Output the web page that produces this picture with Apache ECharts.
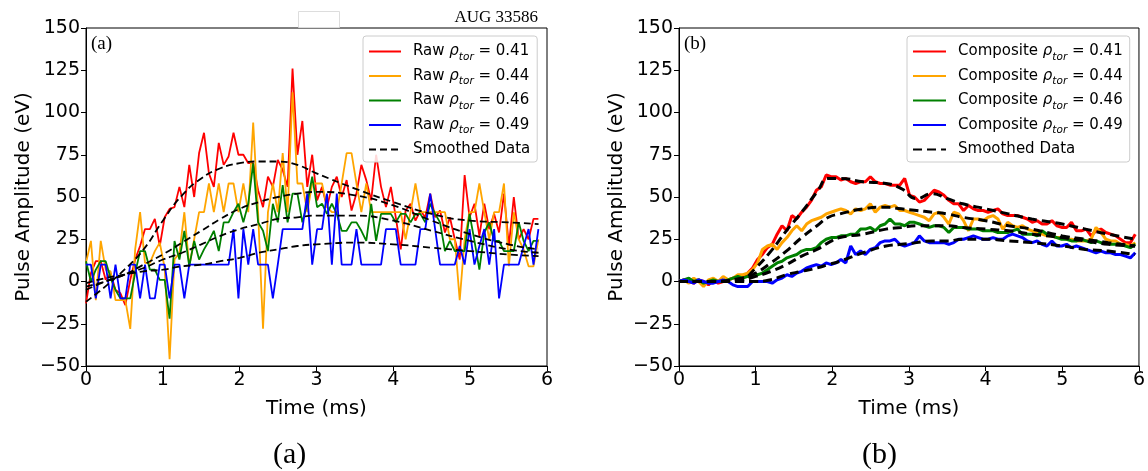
<!DOCTYPE html>
<html><head><meta charset="utf-8">
<script src="https://cdn.jsdelivr.net/npm/echarts@6/dist/echarts.min.js"></script>
<style>html,body{margin:0;padding:0;background:#fff}#c{width:1148px;height:471px}</style>
</head><body><div id="c"></div>
<script>
// sampling times (ms)
const TIME = [0, 0.064, 0.128, 0.192, 0.256, 0.32, 0.384, 0.448, 0.512, 0.576,
  0.64, 0.704, 0.768, 0.832, 0.896, 0.96, 1.024, 1.088, 1.152, 1.216,
  1.28, 1.344, 1.408, 1.472, 1.536, 1.6, 1.664, 1.728, 1.792, 1.856,
  1.92, 1.984, 2.048, 2.112, 2.176, 2.24, 2.304, 2.368, 2.432, 2.496,
  2.56, 2.624, 2.688, 2.752, 2.816, 2.88, 2.944, 3.008, 3.072, 3.136,
  3.2, 3.264, 3.328, 3.392, 3.456, 3.52, 3.584, 3.648, 3.712, 3.776,
  3.84, 3.904, 3.968, 4.032, 4.096, 4.16, 4.224, 4.288, 4.352, 4.416,
  4.48, 4.544, 4.608, 4.672, 4.736, 4.8, 4.864, 4.928, 4.992, 5.056,
  5.12, 5.184, 5.248, 5.312, 5.376, 5.44, 5.504, 5.568, 5.632, 5.696,
  5.76, 5.824, 5.888, 5.952];

// (a) raw pulse amplitudes (eV)
const RAW_041 = [-13, 5, 12, 12, 1, 5, -5, -7, -14, 1,
  13, 21, 31, 31, 37, 21, 38, 43, 44, 56,
  44, 69, 50, 76, 88, 64, 56, 82, 69, 74,
  88, 75, 75, 70, 70, 54, 44, 62, 56, 72,
  66, 56, 126, 75, 95, 56, 75, 48, 56, 44,
  56, 62, 50, 60, 42, 52, 69, 60, 48, 75,
  56, 44, 56, 38, 19, 42, 46, 36, 42, 38,
  52, 38, 42, 29, 38, 25, 13, 63, 38, 46,
  27, 46, 31, 40, 29, 52, 21, 50, 25, 31,
  25, 37, 37];
const RAW_044 = [11, 24, -11, 24, 7, 6, -11, -11, -11, -28,
  19, 41, 11, 11, 18, 23, 8, -46, 13, 17,
  41, 9, 25, 41, 41, 58, 41, 58, 41, 58,
  58, 41, 58, 41, 94, 41, -28, 41, 58, 41,
  76, 41, 112, 58, 58, 41, 58, 58, 58, 44,
  41, 41, 58, 76, 76, 58, 41, 58, 41, 41,
  41, 41, 41, 41, 41, 25, 41, 58, 41, 41,
  41, 41, 41, 41, 25, 25, -11, 25, 41, 41,
  58, 41, 25, 41, 41, 58, 9, 41, 25, 19,
  9, 9, 25];
const RAW_046 = [12, 0, 7, 12, 12, 2, -5, -10, -10, -10,
  5, 18, 18, 7, 7, 1, 1, -22, 24, 13,
  30, 9, 24, 13, 19, 24, 30, 18, 35, 35,
  41, 46, 35, 46, 70, 35, 30, 18, 46, 35,
  57, 35, 52, 52, 35, 46, 62, 44, 46, 40,
  46, 40, 30, 30, 35, 35, 30, 24, 46, 24,
  40, 40, 40, 35, 40, 40, 35, 40, 40, 35,
  46, 40, 35, 18, 24, 18, 18, 18, 40, 24,
  7, 29, 35, 24, 24, 18, 18, 18, 35, 24,
  18, 24, 24];
const RAW_049 = [10, 10, -10, 10, 10, -10, 10, -10, -10, 10,
  10, -10, 10, -10, -10, 10, 10, -10, 10, 10,
  -10, 10, 10, 10, 10, 10, 10, 10, 10, 10,
  31, -10, 31, 10, 31, 10, 10, 10, -10, 10,
  31, 31, 31, 31, 31, 52, 10, 31, 31, 52,
  10, 52, 10, 10, 10, 31, 10, 10, 10, 10,
  10, 31, 31, 31, 10, 10, 10, 10, 31, 31,
  52, 31, 10, 10, 10, 10, 21, 10, 31, 10,
  21, 31, 10, 31, -10, 10, 10, 10, 10, 21,
  31, 10, 31];

// (a) smoothed curves
const SMOOTH_T_A = [0, 0.25, 0.5, 0.75, 1.0, 1.25, 1.5, 1.75, 2.0, 2.25, 2.5, 2.75, 3.0, 3.5, 4.0, 4.5, 5.0, 5.5, 5.89];
const SM_A_041 = [-12, -3, 7, 19, 36, 51, 61, 67, 70, 71, 71, 69, 64, 55, 47, 40, 36, 35, 34];
const SM_A_044 = [-5, 0, 4, 10, 16, 23, 30, 37, 43, 47, 50, 52, 53, 51, 45, 36, 28, 22, 19];
const SM_A_046 = [-3, 0, 4, 8, 13, 17, 22, 27, 31, 34, 37, 38, 39, 39, 36, 30, 24, 19, 17];
const SM_A_049 = [-1, 2, 4, 6, 7, 9, 10, 12, 14, 17, 19, 21, 22, 23, 22, 20, 18, 16, 15];

// (b) composite pulse amplitudes (eV)
const COMP_041 = [0, 1, 0, -1, 1, 0, -2, 1, -1, 0,
  1, 2, 3, 2, 5, 8, 13, 16, 20, 22,
  28, 33, 30, 39, 37, 41, 44, 48, 54, 56,
  63, 62, 62, 60, 61, 59, 58, 59, 59, 62,
  59, 58, 58, 57, 57, 57, 61, 51, 50, 47,
  48, 51, 54, 53, 51, 48, 46, 46, 42, 45,
  43, 42, 42, 41, 42, 43, 40, 39, 39, 39,
  38, 37, 35, 36, 34, 34, 36, 33, 32, 32,
  35, 30, 30, 31, 27, 30, 31, 29, 28, 27,
  25, 23, 23, 28];
const COMP_044 = [0, 1, -1, 2, 0, -3, 1, 2, 0, 3,
  1, 2, 4, 4, 5, 7, 11, 19, 21, 22,
  19, 23, 26, 30, 33, 30, 34, 36, 37, 38,
  40, 41, 42, 43, 42, 40, 43, 42, 43, 46,
  41, 44, 45, 44, 45, 42, 42, 41, 40, 39,
  38, 36, 40, 41, 38, 34, 41, 40, 36, 30,
  37, 37, 36, 38, 39, 37, 31, 35, 33, 32,
  33, 31, 30, 29, 28, 27, 27, 26, 26, 25,
  25, 24, 24, 24, 25, 32, 29, 25, 24, 24,
  22, 22, 21, 23];
const COMP_046 = [0, 1, 2, 0, 1, -1, 0, 1, 0, 0,
  1, 2, 3, 2, 3, 3, 4, 5, 7, 9,
  11, 12, 14, 15, 16, 18, 19, 19, 20, 23,
  25, 26, 26, 27, 27, 28, 28, 31, 31, 32,
  30, 33, 34, 37, 34, 34, 33, 35, 35, 34,
  33, 32, 33, 33, 32, 29, 32, 32, 32, 31,
  31, 31, 30, 30, 30, 29, 29, 29, 30, 31,
  28, 28, 28, 27, 30, 28, 27, 26, 25, 25,
  24, 24, 25, 24, 23, 24, 23, 23, 22, 22,
  22, 21, 20, 22];
const COMP_049 = [0, 1, 0, -1, 1, 0, -1, -1, 0, 1,
  0, -2, -3, -3, -3, 0, 0, 0, 0, -1,
  1, 2, 4, 3, 5, 6, 8, 9, 10, 9,
  11, 10, 11, 13, 11, 21, 16, 18, 16, 19,
  20, 23, 24, 24, 25, 22, 21, 22, 23, 27,
  24, 23, 23, 23, 23, 22, 23, 25, 25, 26,
  27, 26, 25, 25, 26, 25, 25, 27, 28, 27,
  26, 24, 23, 24, 22, 21, 24, 21, 21, 22,
  20, 21, 20, 19, 18, 17, 18, 17, 17, 16,
  16, 15, 14, 17];

// (b) smoothed curves
const SMOOTH_T_B = [0, 0.4, 0.83, 1.0, 1.2, 1.4, 1.6, 1.8, 1.95, 2.1, 2.4, 2.7, 2.9, 3.1, 3.3, 3.5, 3.7, 4.0, 4.3, 4.6, 5.0, 5.3, 5.6, 5.95];
const SM_B_041 = [0, 0, 2, 8, 18, 30, 41, 53, 61, 61, 59, 58, 55, 49, 52, 49, 46, 43, 40, 37, 34, 31, 28, 25];
const SM_B_044 = [0, 0, 2, 5, 11, 18, 26, 33, 38, 40, 43, 44, 43, 42, 41, 40, 38, 36, 33, 31, 27, 25, 23, 21];
const SM_B_046 = [0, 0, 1, 3, 6, 10, 15, 19, 23, 26, 28, 31, 32, 33, 33, 33, 32, 31, 30, 28, 26, 24, 22, 21];
const SM_B_049 = [0, 0, 0, 0, 1, 4, 6, 8, 10, 12, 17, 21, 22, 23, 24, 24, 25, 25, 24, 23, 21, 19, 18, 16];

const Y_TICKS = [-50, 150, 25];
const X_TICKS = [0, 6, 1];

const RED = '#ff0000', ORANGE = '#ffa500', GREEN = '#008000', BLUE = '#0000ff';

function pairs(t, v) { return v.map((y, i) => [t[i], y]); }

const chart = echarts.init(document.getElementById('c'), null, {renderer: 'canvas'});

const SANS = 'DejaVu Sans';

function xAx(gi) {
  return {
    gridIndex: gi, type: 'value', min: X_TICKS[0], max: X_TICKS[1], interval: X_TICKS[2],
    axisLine: {show: true, onZero: false, lineStyle: {color: '#000', width: 1}},
    axisTick: {show: true, length: 5, lineStyle: {color: '#000', width: 1}},
    axisLabel: {color: '#000', fontSize: 19, fontFamily: SANS, margin: 5},
    splitLine: {show: false},
    name: 'Time (ms)', nameLocation: 'middle', nameGap: 33,
    nameTextStyle: {color: '#000', fontSize: 20, fontFamily: SANS}
  };
}
function yAx(gi) {
  return {
    gridIndex: gi, type: 'value', min: Y_TICKS[0], max: Y_TICKS[1], interval: Y_TICKS[2],
    axisLine: {show: true, onZero: false, lineStyle: {color: '#000', width: 1}},
    axisTick: {show: true, length: 5, lineStyle: {color: '#000', width: 1}},
    axisLabel: {color: '#000', fontSize: 19, fontFamily: SANS, margin: 6,
      formatter: v => v < 0 ? '\u2212' + Math.abs(v) : String(v)},
    splitLine: {show: false},
    name: 'Pulse Amplitude (eV)', nameLocation: 'middle', nameGap: 52, nameRotate: 90,
    nameTextStyle: {color: '#000', fontSize: 20, fontFamily: SANS}
  };
}

function line(name, gi, data, color, width, dash, z) {
  return {
    name: name, type: 'line', xAxisIndex: gi, yAxisIndex: gi, data: data,
    symbol: 'none', showSymbol: false, smooth: false, animation: false, z: z || 2,
    lineStyle: {color: color, width: width, type: dash || 'solid'},
    itemStyle: {color: color}
  };
}
function smoothLine(name, gi, data, width, dash) {
  const s = line(name, gi, data, '#000', width, dash, 5);
  s.smooth = 0.5;
  return s;
}

const LABELS = {
  'Raw 0.41': ['Raw ', '0.41'], 'Raw 0.44': ['Raw ', '0.44'],
  'Raw 0.46': ['Raw ', '0.46'], 'Raw 0.49': ['Raw ', '0.49'],
  'Composite 0.41': ['Composite ', '0.41'], 'Composite 0.44': ['Composite ', '0.44'],
  'Composite 0.46': ['Composite ', '0.46'], 'Composite 0.49': ['Composite ', '0.49']
};
function fmt(name) {
  if (name.indexOf('Smoothed') === 0) return '{n|Smoothed Data}';
  const p = LABELS[name];
  return '{n|' + p[0] + '}{r|\u03c1}{s|tor}{n| = ' + p[1] + '}';
}
const RICH = {
  n: {fontSize: 15, fontFamily: SANS, color: '#000', lineHeight: 22},
  r: {fontSize: 15, fontFamily: SANS, fontStyle: 'italic', color: '#000', lineHeight: 22},
  s: {fontSize: 10.5, fontFamily: SANS, fontStyle: 'italic', color: '#000', verticalAlign: 'bottom'}
};
function legend(left, names, w) {
  return {
    left: left, top: 36, orient: 'vertical', data: names, selectedMode: false,
    itemWidth: w, itemHeight: 2, itemGap: 6, padding: [8, 7, 5, 5],
    itemStyle: {opacity: 0, borderWidth: 0},
    backgroundColor: 'rgba(255,255,255,0.85)', borderColor: '#cccccc', borderWidth: 1, borderRadius: 3,
    textStyle: {rich: RICH, padding: [0, 0, 0, 7]},
    formatter: fmt
  };
}

const option = {
  backgroundColor: '#ffffff',
  animation: false,
  grid: [
    {left: 86, top: 28, width: 461, height: 338, show: true, borderColor: '#000', borderWidth: 1, backgroundColor: 'transparent'},
    {left: 679, top: 28, width: 461, height: 338, show: true, borderColor: '#000', borderWidth: 1, backgroundColor: 'transparent'}
  ],
  xAxis: [xAx(0), xAx(1)],
  yAxis: [yAx(0), yAx(1)],
  legend: [
    legend(363, ['Raw 0.41', 'Raw 0.44', 'Raw 0.46', 'Raw 0.49', 'Smoothed Data (a)'], 32),
    legend(907, ['Composite 0.41', 'Composite 0.44', 'Composite 0.46', 'Composite 0.49', 'Smoothed Data (b)'], 33)
  ],
  series: [
    line('Raw 0.41', 0, pairs(TIME, RAW_041), RED, 1.8),
    line('Raw 0.44', 0, pairs(TIME, RAW_044), ORANGE, 1.8),
    line('Raw 0.46', 0, pairs(TIME, RAW_046), GREEN, 1.8),
    line('Raw 0.49', 0, pairs(TIME, RAW_049), BLUE, 1.8),
    smoothLine('Smoothed Data (a)', 0, pairs(SMOOTH_T_A, SM_A_041), 1.8, [7, 4]),
    smoothLine('Smoothed Data (a)', 0, pairs(SMOOTH_T_A, SM_A_044), 1.8, [7, 4]),
    smoothLine('Smoothed Data (a)', 0, pairs(SMOOTH_T_A, SM_A_046), 1.8, [7, 4]),
    smoothLine('Smoothed Data (a)', 0, pairs(SMOOTH_T_A, SM_A_049), 1.8, [7, 4]),
    line('Composite 0.41', 1, pairs(TIME, COMP_041), RED, 3),
    line('Composite 0.44', 1, pairs(TIME, COMP_044), ORANGE, 3),
    line('Composite 0.46', 1, pairs(TIME, COMP_046), GREEN, 3),
    line('Composite 0.49', 1, pairs(TIME, COMP_049), BLUE, 3),
    smoothLine('Smoothed Data (b)', 1, pairs(SMOOTH_T_B, SM_B_041), 3, [9, 5]),
    smoothLine('Smoothed Data (b)', 1, pairs(SMOOTH_T_B, SM_B_044), 3, [9, 5]),
    smoothLine('Smoothed Data (b)', 1, pairs(SMOOTH_T_B, SM_B_046), 3, [9, 5]),
    smoothLine('Smoothed Data (b)', 1, pairs(SMOOTH_T_B, SM_B_049), 3, [9, 5])
  ],
  graphic: [
    {type: 'text', left: 91, top: 35, z: 10, style: {text: '(a)', font: '19px "Liberation Serif"', fill: '#000'}},
    {type: 'text', left: 684, top: 35, z: 10, style: {text: '(b)', font: '19px "Liberation Serif"', fill: '#000'}},
    {type: 'text', right: 1148 - 538, top: 9, z: 10, style: {text: 'AUG 33586', font: '17px "Liberation Serif"', fill: '#000'}},
    {type: 'rect', left: 296, top: 9, z: 10, shape: {width: 41, height: 16}, style: {fill: 'none', stroke: '#dddddd', lineWidth: 1}},
    {type: 'text', left: 273, top: 440, z: 10, style: {text: '(a)', font: '30px "Liberation Serif"', fill: '#000'}},
    {type: 'text', left: 862, top: 440, z: 10, style: {text: '(b)', font: '30px "Liberation Serif"', fill: '#000'}}
  ]
};
chart.setOption(option);
</script></body></html>
